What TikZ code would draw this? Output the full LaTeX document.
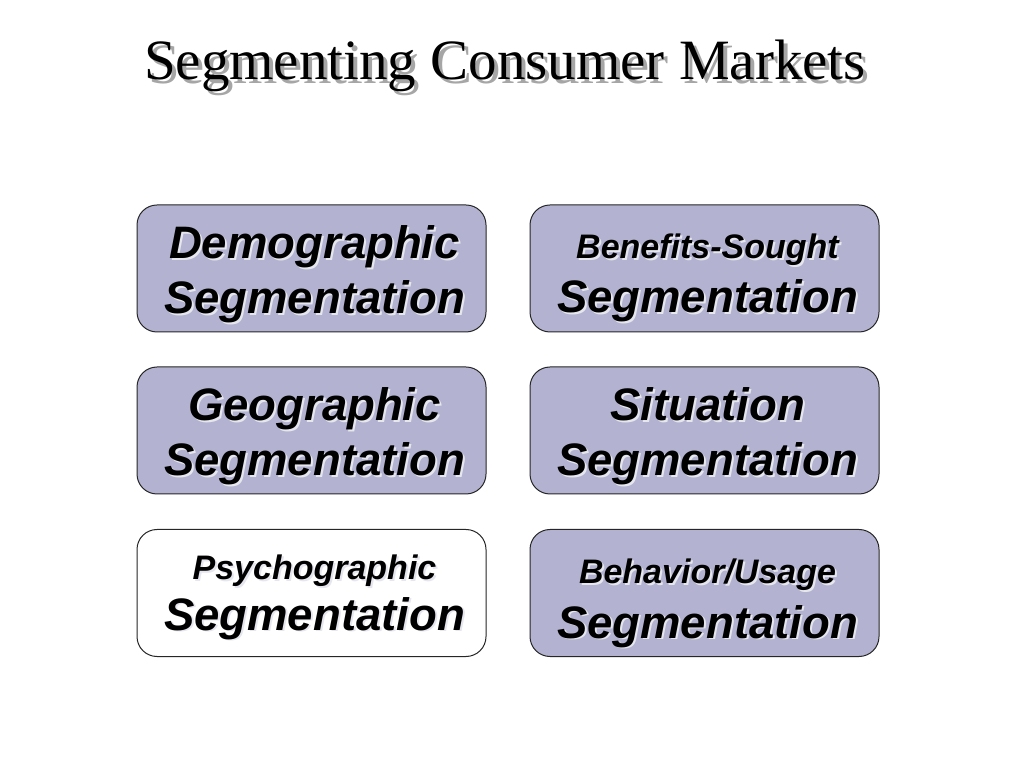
\documentclass[tikz,border=0pt]{standalone}
\usepackage{fontspec}
\setmainfont{Liberation Serif}
\setsansfont{Liberation Sans}
\usepackage{xcolor}
\usetikzlibrary{positioning}

\definecolor{segfill}{HTML}{B3B3D1}
\definecolor{titleshade}{HTML}{A6A6A6}
\definecolor{boxshade}{HTML}{E6E6EE}

% text with a small drop shadow behind it
\newcommand{\shadowtext}[3]{\makebox[0pt][l]{\hspace*{#2}\raisebox{-#2}{\color{#3}#1}}#1}

\tikzset{
  segbox/.style={draw=black!85, line width=1pt, rounded corners=20pt,
    fill=segfill, minimum width=349pt, minimum height=127pt, inner sep=0pt},
  plainbox/.style={segbox, fill=white},
  bigline/.style={anchor=base, inner sep=0pt, xshift=3pt,
    font=\sffamily\bfseries\itshape\fontsize{45.5}{50}\selectfont},
  smallline/.style={anchor=base, inner sep=0pt, xshift=3pt,
    font=\sffamily\bfseries\itshape\fontsize{34}{38}\selectfont}
}

\begin{document}
\begin{tikzpicture}[x=1pt, y=1pt]
\useasboundingbox (0,0) rectangle (1024,768);

% title
\node[anchor=base, inner sep=0pt, font=\fontsize{57}{64}\selectfont] (title) at (505,688)
  {\shadowtext{Segmenting Consumer Markets}{4pt}{titleshade}};

% boxes
\node[segbox] (demo) at (311.5,499.5) {};
\node[segbox] (bene) at (704.5,499.5) {};
\node[segbox] (geo) at (311.5,337.5) {};
\node[segbox] (situ) at (704.5,337.5) {};
\node[plainbox] (psych) at (311.5,175) {};
\node[segbox] (behav) at (704.5,175) {};

% labels
\node[bigline] (demoA) at ([yshift=-54pt]demo.north) {\shadowtext{Demographic}{2pt}{boxshade}};
\node[bigline] (demoB) at ([yshift=-109pt]demo.north) {\shadowtext{Segmentation}{2pt}{boxshade}};

\node[smallline] (beneA) at ([yshift=-54pt]bene.north) {\shadowtext{Benefits-Sought}{2pt}{boxshade}};
\node[bigline] (beneB) at ([yshift=-108pt]bene.north) {\shadowtext{Segmentation}{2pt}{boxshade}};

\node[bigline] (geoA) at ([yshift=-54pt]geo.north) {\shadowtext{Geographic}{2pt}{boxshade}};
\node[bigline] (geoB) at ([yshift=-109pt]geo.north) {\shadowtext{Segmentation}{2pt}{boxshade}};

\node[bigline] (situA) at ([yshift=-54pt]situ.north) {\shadowtext{Situation}{2pt}{boxshade}};
\node[bigline] (situB) at ([yshift=-109pt]situ.north) {\shadowtext{Segmentation}{2pt}{boxshade}};

\node[smallline] (psychA) at ([yshift=-51pt]psych.north) {\shadowtext{Psychographic}{2pt}{boxshade}};
\node[bigline] (psychB) at ([yshift=-101pt]psych.north) {\shadowtext{Segmentation}{2pt}{boxshade}};

\node[smallline] (behavA) at ([yshift=-55pt]behav.north) {\shadowtext{Behavior/Usage}{2pt}{boxshade}};
\node[bigline] (behavB) at ([yshift=-109pt]behav.north) {\shadowtext{Segmentation}{2pt}{boxshade}};
\end{tikzpicture}
\end{document}
